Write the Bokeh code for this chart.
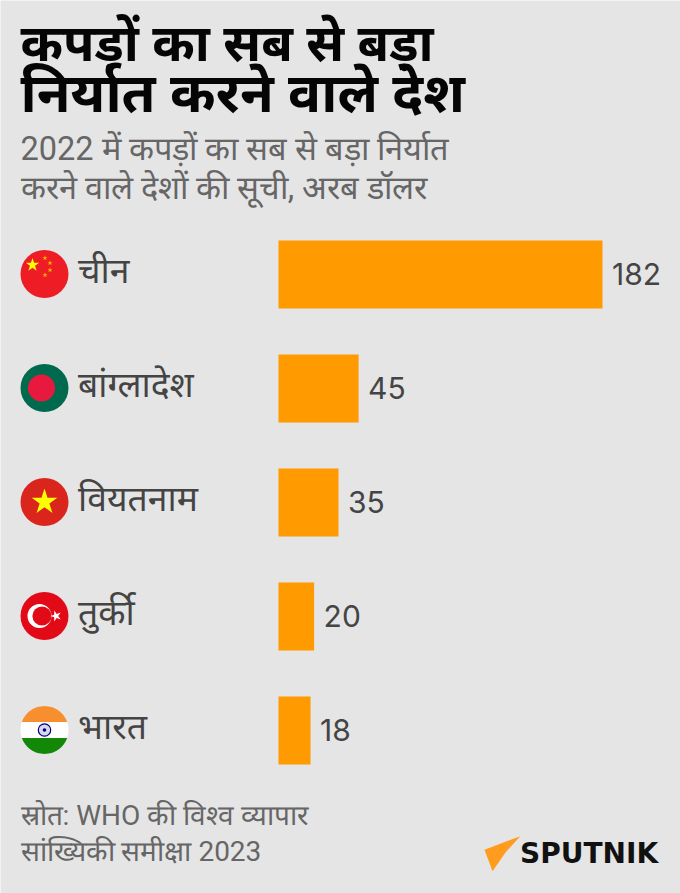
from bokeh.plotting import figure
from bokeh.embed import file_html
from bokeh.resources import INLINE
from bokeh.models import Range1d
from bokeh.core.properties import value
import math

countries = ["चीन", "बांग्लादेश", "वियतनाम", "तुर्की", "भारत"]
value_labels = ["182", "45", "35", "20", "18"]
bar_values = [182, 45, 33.7, 20, 18]
title_lines = ["कपड़ों का सब से बड़ा", "निर्यात करने वाले देश"]
sub_lines = ["2022 में कपड़ों का सब से बड़ा निर्यात", "करने वाले देशों की सूची, अरब डॉलर"]
src_lines = ["स्रोत: WHO की विश्व व्यापार", "सांख्यिकी समीक्षा 2023"]
row_y = [274, 388, 502, 616, 730]

BG = "#e5e5e5"
W, H = 680, 893
p = figure(width=W, height=H, x_range=Range1d(0, W), y_range=Range1d(H, 0),
           output_backend="svg", toolbar_location=None, min_border=0,
           background_fill_color=BG, border_fill_color=BG, outline_line_color=None)
p.xaxis.visible = False
p.yaxis.visible = False
p.xgrid.visible = False
p.ygrid.visible = False

F = value("Noto Sans")
R = value("Roboto")
p.text([20], [40], text=title_lines[:1], text_font=F, text_font_size="51.3px", text_font_style="bold",
       text_color="#050505", text_baseline="middle")
p.text([20], [90], text=title_lines[1:], text_font=F, text_font_size="55px", text_font_style="bold",
       text_color="#050505", text_baseline="middle")
p.text([20, 20], [148, 187], text=sub_lines, text_font=R, text_font_size="32.5px", text_color="#666666",
       text_baseline="middle")

x0 = 278
k = 324 / 182
ends = [x0 + v * k for v in bar_values]
p.quad(left=[x0]*5, right=ends, top=[y - 34 for y in row_y], bottom=[y + 34 for y in row_y],
       color="#ff9a00", line_color=None)
p.text([e + 9.5 for e in ends], [y - 0.5 for y in row_y], text=value_labels,
       text_font=value("Inter"), text_font_size="30px", text_color="#444444", text_baseline="middle")
p.text([77.5]*5, [y - 6 for y in row_y], text=countries, text_font=F, text_font_size="35.5px", text_color="#444444",
       text_baseline="middle")
p.text([20, 20], [815, 851], text=src_lines, text_font=R, text_font_size="28px", text_color="#666666",
       text_baseline="middle")

# flags
CX, RAD = 44, 24
def star(cx, cy, r, rot=-90, inner=0.382):
    xs, ys = [], []
    for i in range(10):
        a = math.radians(rot + 36 * i)
        rr = r if i % 2 == 0 else r * inner
        xs.append(cx + rr * math.cos(a)); ys.append(cy + rr * math.sin(a))
    return xs, ys

def disc(cy, r, color, cx=CX):
    p.circle([cx], [cy], radius=r, radius_units="data", fill_color=color, line_color=None)

def band(cy, y1, y2, color):
    def xh(y):
        return math.sqrt(max(RAD**2 - y**2, 0))
    n = 24
    ysteps = [y1 + (y2 - y1) * i / n for i in range(n + 1)]
    xs = [CX + xh(y) for y in ysteps] + [CX - xh(y) for y in reversed(ysteps)]
    ys = [cy + y for y in ysteps] + [cy + y for y in reversed(ysteps)]
    p.patch(xs, ys, fill_color=color, line_color=None)

# China
cy = row_y[0] - 0.5
disc(cy, RAD, "#ee1c25")
sx, sy = star(32, cy - 9, 7)
p.patch(sx, sy, fill_color="#ffff00", line_color=None)
for dx, dy in [(0.5, -16), (5.5, -11), (5.5, -4), (0.5, 1)]:
    sx, sy = star(CX + dx, cy + dy, 2.8)
    p.patch(sx, sy, fill_color="#ffb000", line_color=None)

# Bangladesh
cy = row_y[1] - 0.5
disc(cy, RAD, "#006a4e")
disc(cy, 13.5, "#e8193f", cx=CX - 3)

# Vietnam
cy = row_y[2] - 0.5
disc(cy, RAD, "#da251d")
sx, sy = star(CX, cy, 13.5)
p.patch(sx, sy, fill_color="#ffff00", line_color=None)

# Turkey
cy = row_y[3] - 0.5
disc(cy, RAD, "#e30a17")
disc(cy, 12, "#ffffff", cx=CX - 5)
disc(cy, 9.6, "#e30a17", cx=CX - 2.5)
sx, sy = star(CX + 11.5, cy, 5.8, rot=180)
p.patch(sx, sy, fill_color="#ffffff", line_color=None)

# India
cy = row_y[4] - 0.5
band(cy, -24, -8, "#f88f2f")
band(cy, -8, 8, "#ffffff")
band(cy, 8, 24, "#138808")
disc(cy, 6.5, "#d8d8f0")
p.circle([CX], [cy], radius=6.2, radius_units="data", fill_color=None, line_color="#000080", line_width=1.2)
disc(cy, 1.8, "#000080")

# logo
p.patch([519.7, 484, 492, 505], [835.7, 849.3, 870.7, 852], fill_color="#ff9c1e", line_color=None)
p.text([519.5], [853], text=["SPUTNIK"], text_font=value("DejaVu Sans"), text_font_size="28px", text_font_style="bold",
       text_color="#111111", text_baseline="middle")

open("out.html", "w").write(file_html(p, INLINE))
